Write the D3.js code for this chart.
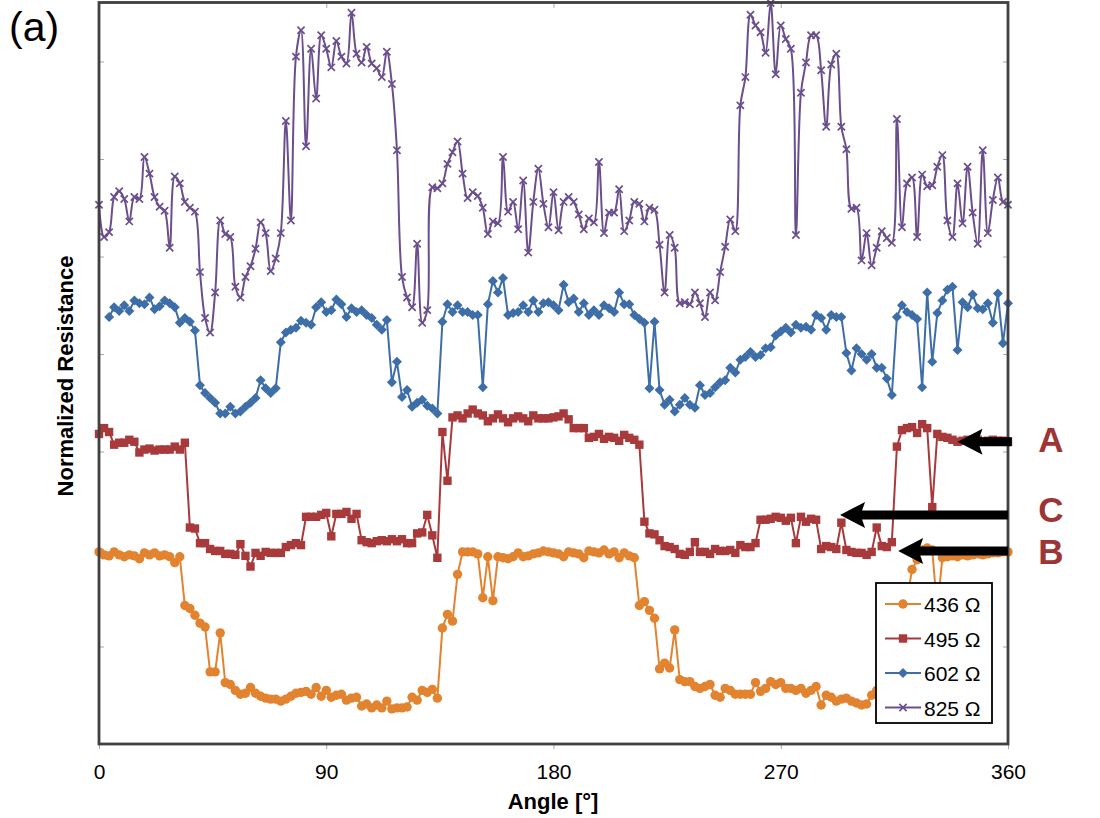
<!DOCTYPE html>
<html>
<head>
<meta charset="utf-8">
<script src="https://cdn.jsdelivr.net/npm/d3@7"></script>
<style>
  body { margin: 0; background: #fff; }
  svg { display: block; font-family: Arial, "Liberation Sans", sans-serif; }
</style>
</head>
<body>
<svg id="chart" width="1100" height="818"></svg>
<script>
// angle grid, one reading every 2 degrees
const angles = d3.range(0, 362, 2);

// normalized resistance (arbitrary offset units)
const r436 = [
  1.97, 1.94, 1.93, 1.97, 1.94, 1.92, 1.94, 1.93, 1.90, 1.96,
  1.94, 1.96, 1.93, 1.94, 1.92, 1.86, 1.92, 1.42, 1.39, 1.32,
  1.24, 1.20, 0.74, 0.74, 1.14, 0.63, 0.61, 0.55, 0.51, 0.52,
  0.58, 0.52, 0.49, 0.47, 0.46, 0.46, 0.44, 0.46, 0.49, 0.52,
  0.53, 0.54, 0.51, 0.58, 0.49, 0.55, 0.48, 0.50, 0.51, 0.45,
  0.47, 0.48, 0.39, 0.41, 0.37, 0.40, 0.37, 0.44, 0.36, 0.37,
  0.37, 0.38, 0.48, 0.45, 0.55, 0.53, 0.56, 0.47, 1.19, 1.33,
  1.26, 1.74, 1.97, 1.97, 1.97, 1.95, 1.50, 1.92, 1.47, 1.92,
  1.91, 1.90, 1.92, 1.96, 1.92, 1.93, 1.95, 1.96, 1.98, 1.97,
  1.96, 1.95, 1.92, 1.97, 1.96, 1.95, 1.91, 1.98, 1.97, 1.96,
  1.99, 1.95, 1.97, 1.91, 1.96, 1.93, 1.91, 1.42, 1.46, 1.37,
  1.29, 0.77, 0.83, 0.78, 1.17, 0.66, 0.64, 0.64, 0.59, 0.57,
  0.59, 0.61, 0.50, 0.48, 0.57, 0.55, 0.51, 0.51, 0.51, 0.51,
  0.63, 0.54, 0.57, 0.64, 0.61, 0.63, 0.57, 0.57, 0.55, 0.57,
  0.52, 0.55, 0.59, 0.40, 0.50, 0.48, 0.44, 0.46, 0.47, 0.44,
  0.42, 0.40, 0.41, 0.50, 0.55, 0.57, 0.66, 0.81, 1.07, 1.37,
  1.48, 1.79, 1.89, 1.99, 2.01, 1.99, 1.37, 1.91, 1.92, 1.93,
  1.92, 1.94, 1.93, 1.94, 1.95, 1.94, 1.95, 1.96, 1.96, 1.97,
  1.97
];

const r495 = [
  3.18, 3.24, 3.20, 3.07, 3.09, 3.09, 3.12, 3.10, 2.99, 3.02,
  3.03, 3.01, 3.02, 3.02, 3.02, 3.05, 3.02, 3.09, 2.22, 2.21,
  2.06, 2.06, 2.00, 1.98, 1.98, 1.95, 1.95, 1.94, 2.05, 1.93,
  1.82, 1.96, 1.93, 1.97, 1.96, 1.96, 1.96, 2.02, 2.04, 2.06,
  2.04, 2.33, 2.33, 2.33, 2.35, 2.37, 2.13, 2.36, 2.36, 2.38,
  2.31, 2.36, 2.09, 2.07, 2.06, 2.08, 2.09, 2.08, 2.10, 2.08,
  2.10, 2.06, 2.06, 2.16, 2.17, 2.35, 2.14, 1.91, 3.20, 2.70,
  3.35, 3.37, 3.34, 3.39, 3.43, 3.39, 3.37, 3.31, 3.34, 3.38,
  3.34, 3.30, 3.34, 3.36, 3.34, 3.31, 3.37, 3.34, 3.34, 3.34,
  3.35, 3.36, 3.39, 3.33, 3.24, 3.24, 3.24, 3.14, 3.15, 3.18,
  3.13, 3.15, 3.14, 3.11, 3.17, 3.14, 3.12, 3.07, 2.28, 2.16,
  2.15, 2.09, 2.03, 2.02, 2.00, 1.95, 1.94, 1.97, 2.07, 1.97,
  1.97, 1.95, 2.00, 1.98, 1.98, 1.99, 1.96, 2.04, 2.02, 2.02,
  2.06, 2.30, 2.30, 2.31, 2.33, 2.32, 2.29, 2.32, 2.06, 2.33,
  2.28, 2.31, 2.30, 2.00, 2.03, 2.02, 2.00, 2.27, 1.99, 1.97,
  1.96, 1.96, 1.94, 1.97, 2.22, 2.03, 2.02, 2.07, 3.05, 3.22,
  3.24, 3.25, 3.19, 3.28, 3.24, 2.43, 3.18, 3.15, 3.14, 3.12,
  3.10, 3.11, 3.12, 3.11, 3.12, 3.10, 3.11, 3.12, 3.11, 3.11,
  3.10
];

const r602 = [
  null, null, 4.38, 4.48, 4.44, 4.50, 4.44, 4.55, 4.52, 4.51,
  4.58, 4.46, 4.49, 4.55, 4.52, 4.48, 4.32, 4.37, 4.33, 4.24,
  3.68, 3.60, 3.55, 3.50, 3.39, 3.39, 3.46, 3.39, 3.41, 3.46,
  3.50, 3.55, 3.73, 3.65, 3.60, 3.65, 4.12, 4.22, 4.25, 4.27,
  4.34, 4.32, 4.30, 4.48, 4.53, 4.43, 4.45, 4.56, 4.51, 4.38,
  4.47, 4.43, 4.45, 4.40, 4.37, 4.30, 4.25, 4.35, 3.71, 3.92,
  3.56, 3.63, 3.46, 3.50, 3.53, 3.47, 3.44, 3.39, 4.33, 4.51,
  4.43, 4.50, 4.43, 4.43, 4.40, 4.40, 3.66, 4.51, 4.75, 4.63,
  4.78, 4.40, 4.42, 4.43, 4.50, 4.43, 4.55, 4.43, 4.52, 4.53,
  4.50, 4.45, 4.71, 4.53, 4.57, 4.43, 4.52, 4.40, 4.45, 4.40,
  4.50, 4.47, 4.43, 4.63, 4.51, 4.51, 4.40, 4.36, 4.32, 3.65,
  4.33, 3.63, 3.48, 3.53, 3.41, 3.48, 3.55, 3.48, 3.45, 3.68,
  3.58, 3.60, 3.66, 3.71, 3.73, 3.86, 3.81, 3.94, 3.97, 4.02,
  3.97, 3.99, 4.06, 4.07, 4.19, 4.23, 4.27, 4.22, 4.30, 4.27,
  4.28, 4.25, 4.40, 4.37, 4.25, 4.40, 4.38, 4.38, 4.01, 3.83,
  4.06, 4.00, 3.94, 4.00, 3.86, 3.86, 3.75, 3.58, 4.38, 4.50,
  4.43, 4.40, 4.36, 3.66, 4.63, 3.92, 4.42, 4.55, 4.66, 4.69,
  4.04, 4.53, 4.48, 4.61, 4.47, 4.46, 4.52, 4.32, 4.62, 4.11,
  4.52
];

const r825 = [
  5.53, 5.20, 5.25, 5.61, 5.67, 5.59, 5.36, 5.61, 5.59, 6.02,
  5.85, 5.61, 5.51, 5.47, 5.09, 5.82, 5.75, 5.56, 5.50, 5.46,
  4.84, 4.37, 4.22, 4.63, 5.37, 5.23, 5.20, 4.69, 4.58, 4.79,
  4.90, 5.08, 5.35, 5.24, 4.85, 4.98, 5.24, 6.39, 5.37, 7.05,
  7.32, 6.13, 7.13, 6.62, 7.27, 7.13, 6.94, 7.21, 7.05, 6.98,
  7.50, 7.08, 6.99, 7.15, 6.98, 6.93, 6.84, 7.10, 6.77, 6.09,
  4.79, 4.58, 4.48, 5.13, 4.32, 4.45, 5.71, 5.70, 5.75, 5.95,
  6.07, 6.18, 5.85, 5.60, 5.66, 5.62, 5.50, 5.23, 5.36, 5.34,
  6.02, 5.46, 5.56, 5.28, 5.78, 5.04, 5.56, 5.90, 5.54, 5.30,
  5.66, 5.27, 5.56, 5.61, 5.56, 5.43, 5.28, 5.39, 5.35, 5.97,
  5.24, 5.45, 5.45, 5.69, 5.26, 5.37, 5.56, 5.54, 5.36, 5.50,
  5.48, 5.12, 4.63, 5.22, 5.09, 4.52, 4.53, 4.51, 4.63, 4.52,
  4.38, 4.63, 4.55, 4.84, 5.10, 5.38, 5.26, 6.55, 6.84, 7.48,
  7.37, 7.30, 7.09, 7.60, 6.87, 7.37, 7.23, 7.13, 5.22, 6.68,
  6.99, 7.27, 7.27, 6.91, 6.33, 6.97, 7.08, 6.33, 6.10, 5.49,
  5.50, 4.96, 5.24, 4.91, 5.09, 5.26, 5.19, 5.14, 6.41, 5.30,
  5.75, 5.81, 5.20, 5.84, 5.72, 5.73, 5.92, 6.04, 5.37, 5.20,
  5.75, 5.34, 5.92, 5.45, 5.13, 6.09, 5.24, 5.58, 5.81, 5.56,
  5.53
];

const seriesNames = ["436 Ω", "495 Ω", "602 Ω", "825 Ω"];
const seriesValues = [r436, r495, r602, r825];
const seriesColors = ["#e2832f", "#a83a3b", "#3d6ea8", "#6b4f8d"];
const seriesMarkers = ["circle", "square", "diamond", "cross"];

const xTicks = [0, 90, 180, 270, 360];
const yTicks = [1, 2, 3, 4, 5, 6, 7];

// arrows: tip angle, tail angle, level, label
const arrows = [
  { label: "A", tip: 340, tail: 361.5, level: 3.10, labelLevel: 3.00 },
  { label: "C", tip: 293.5, tail: 360, level: 2.35, labelLevel: 2.28 },
  { label: "B", tip: 316.5, tail: 360, level: 1.98, labelLevel: 1.85 }
];
const labelAngle = 377;

const svg = d3.select("#chart");

const x = d3.scaleLinear().domain([0, 360]).range([99, 1008]);
const y = d3.scaleLinear().domain([0, 7.6]).range([744, 3]);

// ticks
const tickStyle = g => {
  g.select(".domain").remove();
  g.selectAll(".tick line").attr("stroke", "#a6a6a6").attr("stroke-width", 1);
};

svg.append("g")
  .attr("transform", "translate(0,744)")
  .call(d3.axisBottom(x).tickValues(xTicks).tickSize(5).tickPadding(15).tickFormat(d3.format("d")))
  .call(tickStyle)
  .call(g => g.selectAll("text").attr("font-size", 21).attr("fill", "#000")
    .attr("font-family", "Arial, 'Liberation Sans', sans-serif"));

svg.append("g")
  .attr("transform", "translate(0,3)")
  .call(d3.axisTop(x).tickValues([90, 180, 270]).tickSize(-5).tickFormat(""))
  .call(tickStyle);

svg.append("g")
  .attr("transform", "translate(99,0)")
  .call(d3.axisLeft(y).tickValues(yTicks).tickSize(-5).tickFormat(""))
  .call(tickStyle);

svg.append("g")
  .attr("transform", "translate(1008,0)")
  .call(d3.axisRight(y).tickValues(yTicks).tickSize(-5).tickFormat(""))
  .call(tickStyle);

// series
svg.append("clipPath").attr("id", "plot-clip")
  .append("rect").attr("x", 99).attr("y", 2).attr("width", 909).attr("height", 742);

const markerPath = {
  square: "M-4.2,-4.2H4.2V4.2H-4.2Z",
  diamond: "M0,-5L5,0L0,5L-5,0Z",
  cross: "M-3.6,-3.6L3.6,3.6M-3.6,3.6L3.6,-3.6"
};

function drawMarker(sel, kind, color) {
  if (kind === "circle") {
    sel.append("circle").attr("r", 4.7).attr("fill", color);
  } else if (kind === "cross") {
    sel.append("path").attr("d", markerPath.cross)
      .attr("stroke", color).attr("stroke-width", 1.7).attr("fill", "none");
  } else {
    sel.append("path").attr("d", markerPath[kind]).attr("fill", color);
  }
}

seriesValues.forEach((vals, i) => {
  const pts = angles.map((a, j) => ({ a, v: vals[j] })).filter(d => d.v != null);
  const line = d3.line()
    .x(d => x(d.a))
    .y(d => y(d.v))
    .curve(i === 3 ? d3.curveCatmullRom.alpha(0.5) : d3.curveLinear);

  const g = svg.append("g");
  g.append("path")
    .datum(pts)
    .attr("clip-path", "url(#plot-clip)")
    .attr("fill", "none")
    .attr("stroke", seriesColors[i])
    .attr("stroke-width", 2)
    .attr("d", line);

  g.selectAll(".m")
    .data(pts).enter()
    .append("g")
    .attr("transform", d => `translate(${x(d.a)},${y(d.v)})`)
    .each(function() { drawMarker(d3.select(this), seriesMarkers[i], seriesColors[i]); });
});

// plot frame
svg.append("rect")
  .attr("x", 99).attr("y", 2.5).attr("width", 909).attr("height", 741.5)
  .attr("fill", "none").attr("stroke", "#404040").attr("stroke-width", 2.8);

// legend
const legend = svg.append("g").attr("transform", "translate(876,583)");
legend.append("rect")
  .attr("width", 116).attr("height", 140)
  .attr("fill", "#fff").attr("stroke", "#000").attr("stroke-width", 1.8);

seriesNames.forEach((name, i) => {
  const row = legend.append("g").attr("transform", `translate(0,${21 + i * 34.5})`);
  row.append("line").attr("x1", 9).attr("x2", 45)
    .attr("stroke", seriesColors[i]).attr("stroke-width", 2);
  drawMarker(row.append("g").attr("transform", "translate(27,0)"), seriesMarkers[i], seriesColors[i]);
  row.append("text").attr("x", 48).attr("y", 8)
    .attr("font-size", 21).attr("fill", "#000").text(name);
});

// arrows and labels
arrows.forEach(d => {
  const tipX = x(d.tip), tailX = x(d.tail), cy = y(d.level);
  const headLen = 25, headHalf = 13, shaftHalf = 4.5;
  svg.append("path")
    .attr("d", `M${tipX},${cy}L${tipX + headLen},${cy - headHalf}L${tipX + headLen - 3},${cy - shaftHalf}` +
      `L${tailX},${cy - shaftHalf}L${tailX},${cy + shaftHalf}L${tipX + headLen - 3},${cy + shaftHalf}` +
      `L${tipX + headLen},${cy + headHalf}Z`)
    .attr("fill", "#000");

  svg.append("text")
    .attr("x", x(labelAngle)).attr("y", y(d.labelLevel))
    .attr("text-anchor", "middle")
    .attr("font-size", 35).attr("font-weight", "bold")
    .attr("fill", "#9e3535")
    .text(d.label);
});

// titles
svg.append("text")
  .attr("x", 553).attr("y", 809)
  .attr("text-anchor", "middle")
  .attr("font-size", 22).attr("font-weight", "bold")
  .text("Angle [°]");

svg.append("text")
  .attr("transform", "translate(73,376) rotate(-90)")
  .attr("text-anchor", "middle")
  .attr("font-size", 22).attr("font-weight", "bold")
  .text("Normalized Resistance");

svg.append("text")
  .attr("x", 9).attr("y", 41)
  .attr("font-size", 41)
  .text("(a)");
</script>
</body>
</html>
